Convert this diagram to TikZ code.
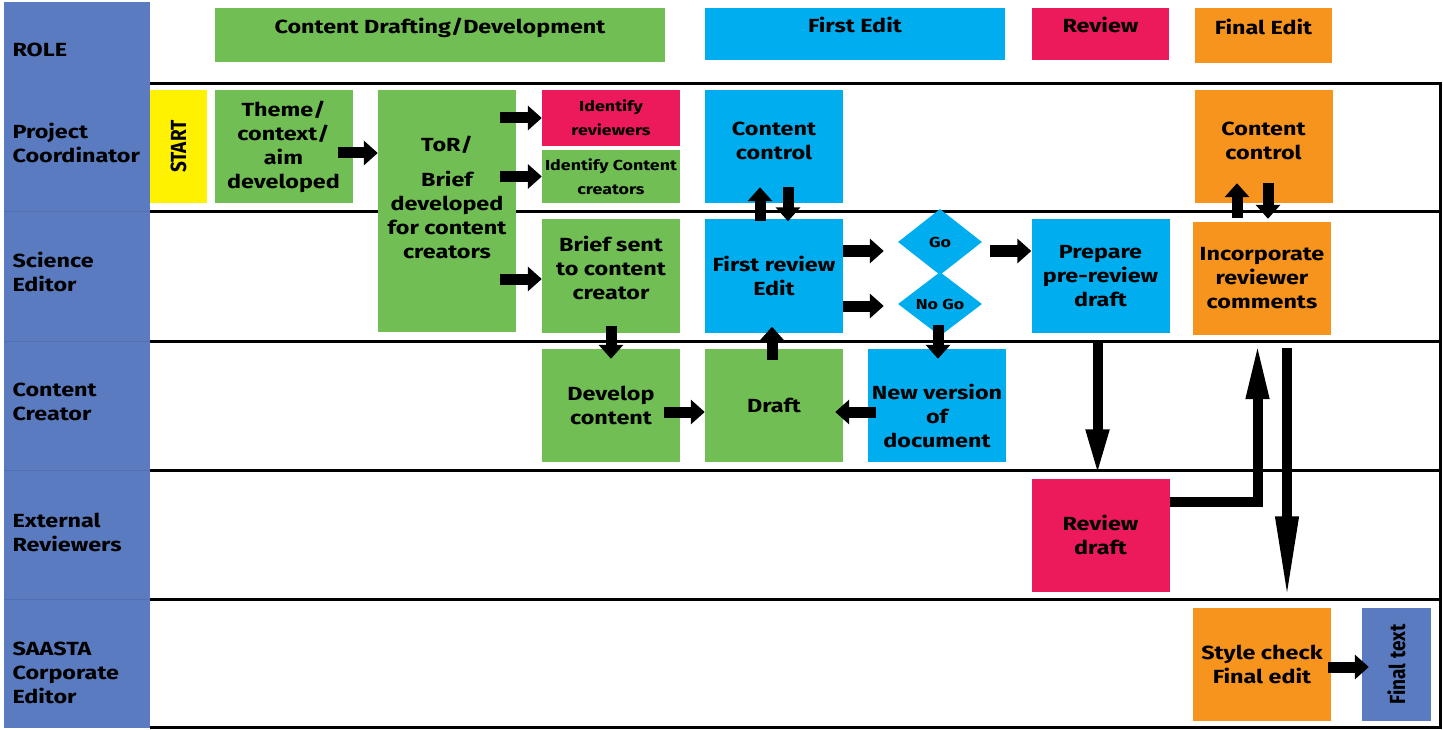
\documentclass[tikz,border=0pt]{standalone}
\usepackage{fontspec}
\setmainfont{Fira Sans}[FakeStretch=1.23]
\newfontfamily\rotfont{Fira Sans}
\usetikzlibrary{arrows.meta,shapes.geometric,calc}
\definecolor{cgreen}{HTML}{71BF54}
\definecolor{cblue}{HTML}{00AEEF}
\definecolor{cpink}{HTML}{ED1A5B}
\definecolor{corange}{HTML}{F7941E}
\definecolor{cyellow}{HTML}{FFF200}
\definecolor{cslate}{HTML}{5A7BBF}
\definecolor{cslateline}{HTML}{5070B2}
\newcommand\rottext[1]{\scalebox{1.15}[1]{\rotatebox{90}{\rotfont\bfseries\fontsize{19}{24}\selectfont #1}}}
\begin{document}
\begin{tikzpicture}[x=1pt,y=-1pt,
  txt/.style={font=\bfseries\fontsize{19}{24}\selectfont, align=center, text=black},
  sml/.style={font=\bfseries\fontsize{14.5}{24}\selectfont, align=center, text=black},
  box/.style={txt, rectangle, minimum width=138pt, minimum height=113pt, inner sep=1pt},
  hdr/.style={txt, rectangle, minimum height=54pt, text height=14pt, text depth=16pt},
  blk/.style={line width=11pt, -{Triangle[width=24pt,length=14pt]}},
  lng/.style={line width=10pt, line join=miter, -{Triangle[width=21pt,length=#1]}},
  lane/.style={line width=3pt},
  role/.style={txt, anchor=west, align=left}]
\useasboundingbox (0,0) rectangle (1443,730);
% role column
\fill[cslate] (4,2) rectangle (150,728);
\foreach \yy in {212,341,470,599} \draw[cslateline, line width=1pt] (4,\yy) -- (150,\yy);
% lanes
\draw[lane] (150,84) -- (1440,84) -- (1440,727) -- (150,727);
\foreach \yy in {212,341,470,599} \draw[lane] (150,\yy) -- (1440,\yy);
% role labels
\node[role] (lrole) at (9,50) {ROLE};
\node[role] (lpc) at (9,142.5) {Project\\Coordinator};
\node[role] (lse) at (9,272) {Science\\Editor};
\node[role] (lcc) at (9,402) {Content\\Creator};
\node[role] (ler) at (9,532) {External\\Reviewers};
\node[role] (lsa) at (9,673) {SAASTA\\Corporate\\Editor};
% headers
\node[hdr, fill=cgreen, minimum width=450pt] (h1) at (440,35) {Content Drafting/Development};
\node[hdr, fill=cblue, minimum width=300pt, minimum height=52pt] (h2) at (855,34) {First Edit};
\node[hdr, fill=cpink, minimum width=137pt, minimum height=52pt] (h3) at (1100.5,34) {Review};
\node[hdr, fill=corange, minimum width=137pt, minimum height=55pt] (h4) at (1263.5,35.5) {Final Edit};
% row 1
\node[box, fill=cyellow, minimum width=57pt] (start) at (178.5,146.5) {\rottext{START}};
\node[box, fill=cgreen] (theme) at (283.5,146.5) {Theme/\\context/\\aim\\developed};
\node[box, fill=cgreen, minimum height=242pt,
  label={[txt,yshift=14pt]center:{ToR/\\[11pt]Brief\\developed\\for content\\creators}}] (tor) at (447,211) {};
\node[box, sml, fill=cpink, minimum height=56pt] (idrev) at (611,118) {Identify\\reviewers};
\node[box, sml, fill=cgreen, minimum height=53pt, inner sep=0pt] (idcc) at (611,176.5) {Identify Content\\creators};
\node[box, fill=cblue, label={[txt,yshift=6pt]center:{Content\\control}}] (ccb) at (774,146.5) {};
\node[box, fill=corange, label={[txt,yshift=6pt]center:{Content\\control}}] (cco) at (1263.5,146.5) {};
% row 2
\node[box, fill=cgreen, label={[txt,yshift=8pt]center:{Brief sent\\to content\\creator}}] (brief) at (611,276) {};
\node[box, fill=cblue] (frev) at (774,276) {First review\\Edit};
\node[diamond, sml, fill=cblue, minimum width=84pt, minimum height=66pt, inner sep=0pt] (go) at (940,242) {Go};
\node[diamond, sml, fill=cblue, minimum width=84pt, minimum height=64pt, inner sep=0pt] (nogo) at (940,304) {No Go};
\node[box, fill=cblue] (prep) at (1100.5,276) {Prepare\\pre-review\\draft};
\node[box, fill=corange, inner sep=0pt] (inc) at (1262,278.5) {Incorporate\\reviewer\\comments};
% row 3
\node[box, fill=cgreen] (dev) at (611,405.5) {Develop\\content};
\node[box, fill=cgreen] (draft) at (774,405.5) {Draft};
\node[box, fill=cblue, inner sep=0pt, label={[txt,yshift=-10pt]center:{New version\\of\\document}}] (newv) at (937,405.5) {};
% row 4
\node[box, fill=cpink] (revd) at (1100.5,535) {Review\\draft};
% row 5
\node[box, fill=corange] (style) at (1262,664) {Style check\\Final edit};
\node[box, fill=cslate, minimum width=69pt] (final) at (1396.5,664.5) {\rottext{Final text}};
% arrows
\draw[blk] ($(theme.east)+(-15,6.5)$) -- ($(theme.east -| tor.west)+(0,6.5)$);
\draw[blk] ($(tor.east |- idrev.west)+(-16,0)$) -- (idrev.west);
\draw[blk] ($(tor.east |- idcc.west)+(-16,0)$) -- (idcc.west);
\draw[blk] ($(tor.east |- brief.west)+(-16,3)$) -- ($(brief.west)+(0,3)$);
\draw[blk] ($(brief.south)+(0,-7)$) -- ($(dev.north)+(0,10)$);
\draw[blk] ($(dev.east)+(-16,6.5)$) -- ($(draft.west)+(0,6.5)$);
\draw[blk] ($(draft.north)+(-2,11)$) -- ($(frev.south)+(-2,-6)$);
\draw[blk] ($(frev.north)+(-14,2)$) -- ($(ccb.south)+(-14,-16)$);
\draw[blk] ($(ccb.south)+(14,-16)$) -- ($(frev.north)+(14,2)$);
\draw[blk] ($(frev.east)+(0,-25)$) -- ($(frev.east -| go.west)+(-14,-25)$);
\draw[blk] ($(frev.east)+(0,30)$) -- ($(frev.east -| nogo.west)+(-14,30)$);
\draw[blk] ($(go.east)+(8,9)$) -- ($(go.east -| prep.west)+(0,9)$);
\draw[blk] ($(nogo.south)+(-2,-11)$) -- ($(newv.north)+(1,10)$);
\draw[blk] ($(newv.west)+(8,6.5)$) -- ($(newv.west -| draft.east)+(-8,6.5)$);
\draw[lng=47pt] ($(prep.south)+(-3,8)$) -- ($(revd.north)+(-3,-2)$);
\draw[lng=57pt] ($(revd.east)+(0,-33)$) -| ($(inc.south)+(-4.5,7)$);
\draw[lng=85pt] ($(inc.south)+(25,13)$) -- ($(style.north)+(25,-6)$);
\draw[blk] ($(inc.north)+(-25,-4)$) -- ($(cco.south)+(-26.5,-20)$);
\draw[blk] ($(cco.south)+(4.5,-20)$) -- ($(inc.north)+(6,-3)$);
\draw[blk] ($(style.east)+(-3,3)$) -- ($(style.east -| final.west)+(7,3)$);
\end{tikzpicture}
\end{document}
